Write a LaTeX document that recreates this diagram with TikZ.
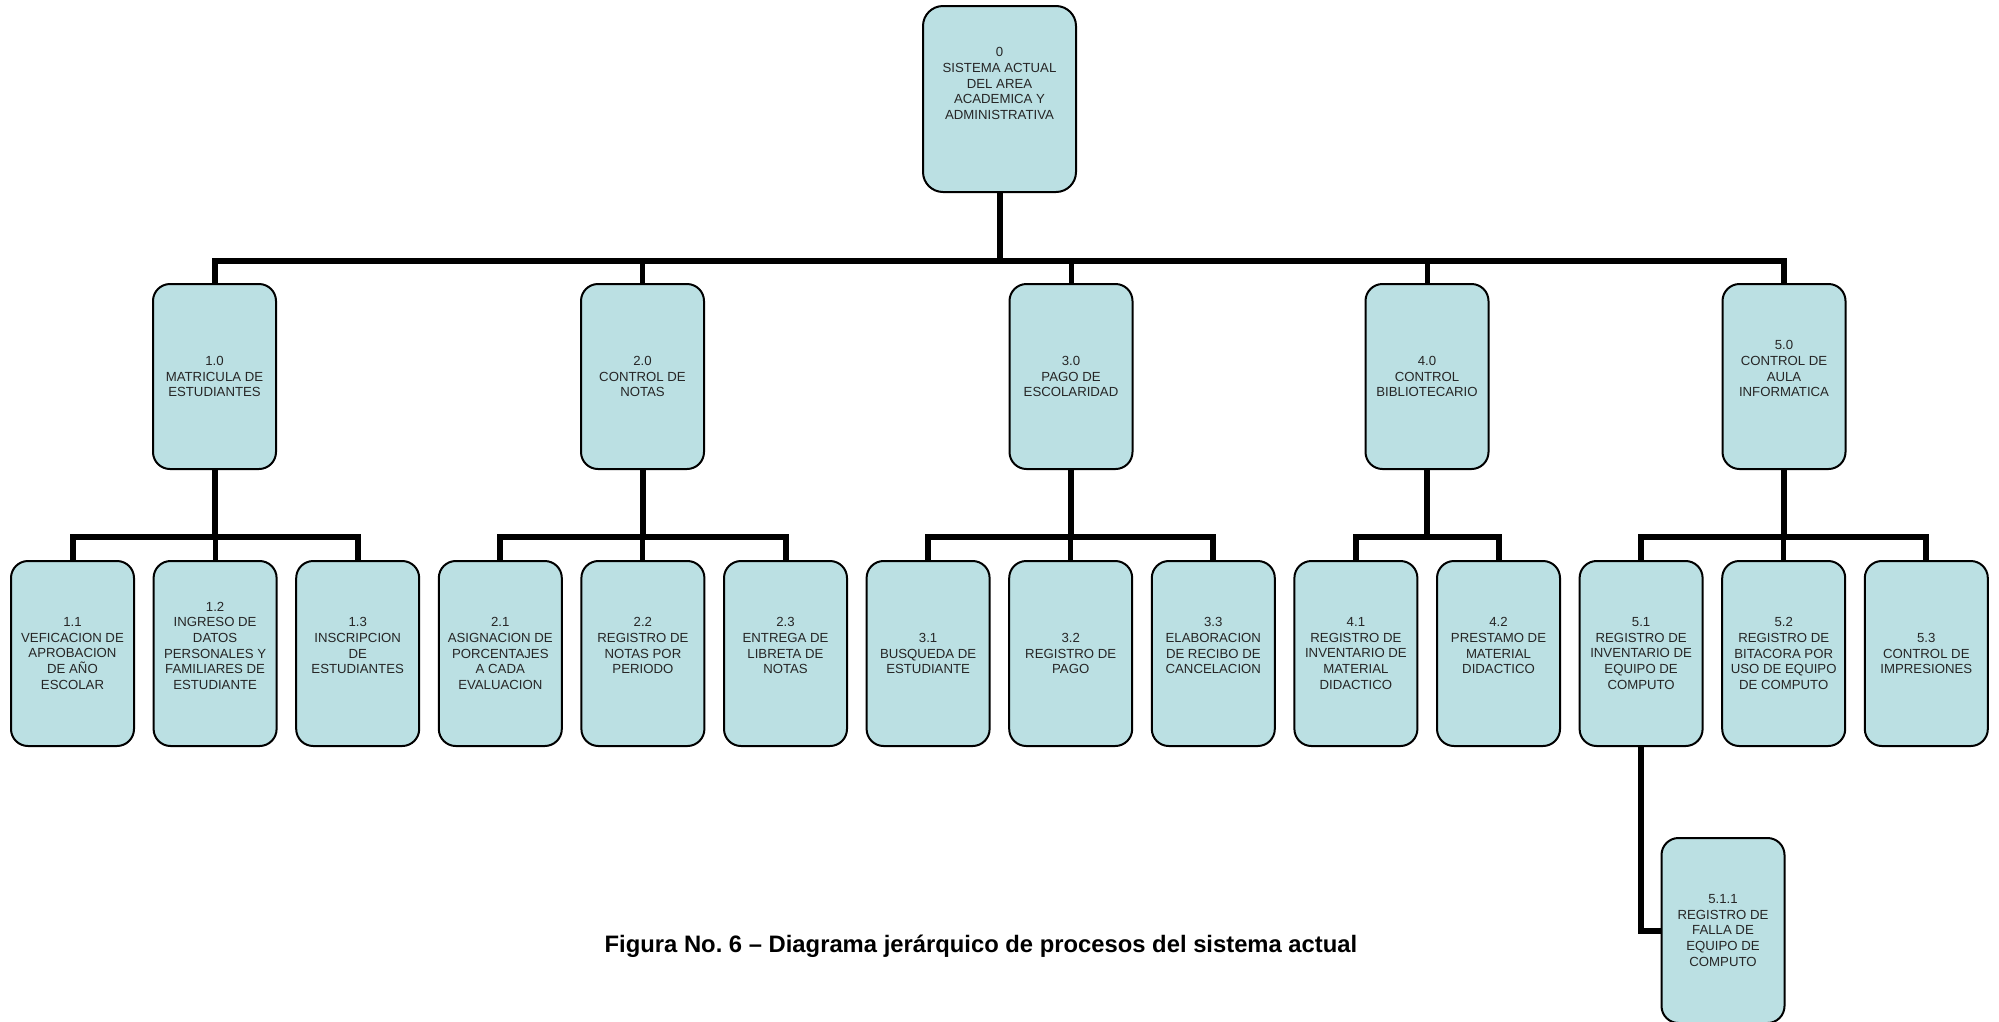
\documentclass[tikz,border=0pt]{standalone}
\usepackage{fontspec}
\setmainfont{Liberation Sans}
\frenchspacing
\begin{document}
\begin{tikzpicture}[x=1pt,y=-1pt,
  proc/.style={draw=black, line width=2pt, fill=procfill, rounded corners=17pt,
    minimum width=123pt, minimum height=185pt, inner sep=0pt, align=center,
    font=\fontsize{13.2}{15.6}\selectfont, text=black!85},
  rootbox/.style={proc, minimum width=153pt, minimum height=186pt, rounded corners=20pt},
  trunk/.style={line width=6pt, line join=miter},
  drop/.style={line width=5pt}]
\definecolor{procfill}{HTML}{BBE0E3}
\useasboundingbox (0,0) rectangle (1999,1021);

% root
\node[rootbox] (r) at (999.5,99) {0\\SISTEMA ACTUAL\\DEL AREA\\ACADEMICA Y\\ADMINISTRATIVA\\~\\~};

% first level
\node[proc] (p1) at (214.5,376.5) {1.0\\MATRICULA DE\\ESTUDIANTES};
\node[proc] (p2) at (642.5,376.5) {2.0\\CONTROL DE\\NOTAS};
\node[proc] (p3) at (1071,376.5) {3.0\\PAGO DE\\ESCOLARIDAD};
\node[proc] (p4) at (1427,376.5) {4.0\\CONTROL\\BIBLIOTECARIO};
\node[proc] (p5) at (1784,376.5) {5.0\\CONTROL DE\\AULA\\INFORMATICA\\~};

% second level
\node[proc] (p11) at (72.5,653.5) {1.1\\VEFICACION DE\\APROBACION\\DE AÑO\\ESCOLAR};
\node[proc] (p12) at (215.1,653.5) {1.2\\INGRESO DE\\DATOS\\PERSONALES Y\\FAMILIARES DE\\ESTUDIANTE\\~};
\node[proc] (p13) at (357.7,653.5) {1.3\\INSCRIPCION\\DE\\ESTUDIANTES\\~};
\node[proc] (p21) at (500.3,653.5) {2.1\\ASIGNACION DE\\PORCENTAJES\\A CADA\\EVALUACION};
\node[proc] (p22) at (642.9,653.5) {2.2\\REGISTRO DE\\NOTAS POR\\PERIODO\\~};
\node[proc] (p23) at (785.5,653.5) {2.3\\ENTREGA DE\\LIBRETA DE\\NOTAS\\~};
\node[proc] (p31) at (928.1,653.5) {3.1\\BUSQUEDA DE\\ESTUDIANTE};
\node[proc] (p32) at (1070.7,653.5) {3.2\\REGISTRO DE\\PAGO};
\node[proc] (p33) at (1213.3,653.5) {3.3\\ELABORACION\\DE RECIBO DE\\CANCELACION\\~};
\node[proc] (p41) at (1355.9,653.5) {4.1\\REGISTRO DE\\INVENTARIO DE\\MATERIAL\\DIDACTICO};
\node[proc] (p42) at (1498.5,653.5) {4.2\\PRESTAMO DE\\MATERIAL\\DIDACTICO\\~};
\node[proc] (p51) at (1641.1,653.5) {5.1\\REGISTRO DE\\INVENTARIO DE\\EQUIPO DE\\COMPUTO};
\node[proc] (p52) at (1783.7,653.5) {5.2\\REGISTRO DE\\BITACORA POR\\USO DE EQUIPO\\DE COMPUTO};
\node[proc] (p53) at (1926.3,653.5) {5.3\\CONTROL DE\\IMPRESIONES};

% third level
\node[proc] (p511) at (1723,930.5) {5.1.1\\REGISTRO DE\\FALLA DE\\EQUIPO DE\\COMPUTO};

% bus heights
\coordinate (b0) at (0,261);
\coordinate (b1) at (0,537);

% root to first level
\draw[trunk] (r.south) -- (r.south |- b0);
\draw[trunk] (p1.north) -- (p1.north |- b0) -- (p5.north |- b0) -- (p5.north);
\foreach \n in {p2,p3,p4} \draw[drop] (\n.north) -- (\n.north |- b0);

% first level to second level
\foreach \a/\l/\r/\m in {p1/p11/p13/p12, p2/p21/p23/p22, p3/p31/p33/p32, p5/p51/p53/p52}{
  \draw[trunk] (\a.south) -- (\a.south |- b1);
  \draw[trunk] (\l.north) -- (\l.north |- b1) -- (\r.north |- b1) -- (\r.north);
  \draw[drop] (\m.north) -- (\m.north |- b1);
}
\draw[trunk] (p4.south) -- (p4.south |- b1);
\draw[trunk] (p41.north) -- (p41.north |- b1) -- (p42.north |- b1) -- (p42.north);

% 5.1 to 5.1.1
\draw[trunk] (p51.south) |- (p511.west);

% caption
\node[anchor=base, font=\fontsize{23.8}{28}\selectfont\bfseries] (cap) at (981,952)
  {Figura No. 6 – Diagrama jerárquico de procesos del sistema actual};
\end{tikzpicture}
\end{document}
